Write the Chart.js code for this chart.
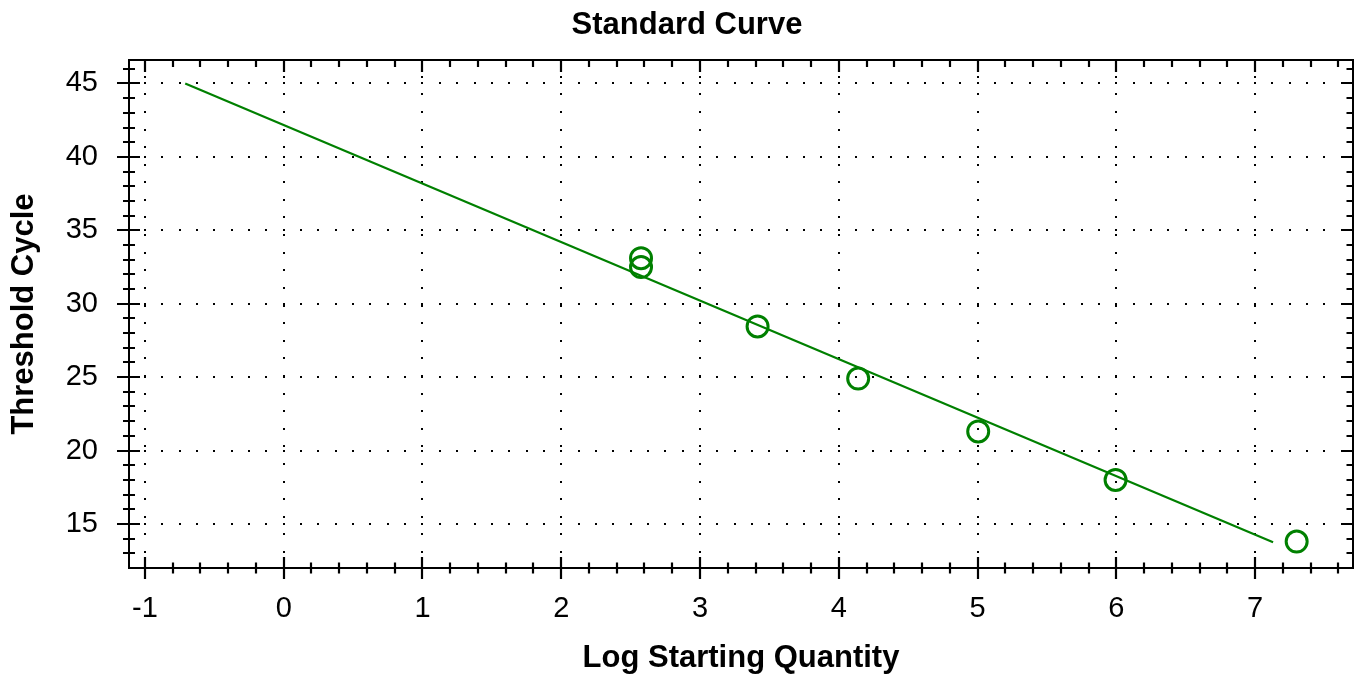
<!DOCTYPE html>
<html><head><meta charset="utf-8">
<script src="https://cdn.jsdelivr.net/npm/chart.js@4.4.1/dist/chart.umd.min.js"></script>
<style>html,body{margin:0;padding:0;background:#fff}#wrap{width:1361px;height:681px;position:relative}</style>
</head><body><div id="wrap"><canvas id="c" width="1361" height="681"></canvas></div>
<script>
// ---- data ----
const logQuantity    = [2.575, 2.575, 3.415, 4.14, 5.005, 5.995, 7.30];
const thresholdCycle = [33.1, 32.5, 28.45, 24.9, 21.3, 18.0, 13.8];
const fitX = [-0.71, 7.13];
const fitY = [45.0, 13.75];
const xTickValues = [-1, 0, 1, 2, 3, 4, 5, 6, 7];
const yTickValues = [15, 20, 25, 30, 35, 40, 45];
const xMinorStep = 0.2;
const yMinorStep = 1;

const FONT = '"Liberation Sans", Arial, Helvetica, sans-serif';
const GREEN = '#008000';

const framePlugin = {
  id: 'framePlugin',
  beforeDatasetsDraw(chart) {
    const {ctx, chartArea: a, scales: {x, y}} = chart;
    ctx.save();
    ctx.fillStyle = '#000';
    const dx = (x.getPixelForValue(1) - x.getPixelForValue(0)) / 8;
    yTickValues.forEach(v => {
      const py = Math.round(y.getPixelForValue(v));
      let sx = x.getPixelForValue(xTickValues[0]);
      while (sx - dx > a.left) sx -= dx;
      for (let px = sx; px < a.right - 2; px += dx) ctx.fillRect(Math.round(px) - 1, py - 1, 2, 2);
    });
    const dy = 17.6;
    xTickValues.forEach(v => {
      const px = Math.round(x.getPixelForValue(v));
      for (let py = a.top + 16.7; py < a.bottom - 4; py += dy) ctx.fillRect(px - 1, Math.round(py) - 1, 2, 2);
    });
    ctx.restore();
  },
  afterDatasetsDraw(chart) {
    const {ctx, chartArea: a, scales: {x, y}} = chart;
    ctx.save();
    ctx.strokeStyle = '#000';
    ctx.lineWidth = 2.2;
    ctx.lineCap = 'butt';
    ctx.beginPath();
    const line = (x1, y1, x2, y2) => { ctx.moveTo(x1, y1); ctx.lineTo(x2, y2); };
    const xs = Math.ceil(x.min / xMinorStep - 1e-9);
    for (let k = xs; k * xMinorStep <= x.max + 1e-9; k++) {
      const v = k * xMinorStep;
      const px = Math.round(x.getPixelForValue(v));
      const major = Math.abs(v - Math.round(v)) < 1e-6;
      if (major) { line(px, a.bottom - 11, px, a.bottom + 11); line(px, a.top, px, a.top + 12); }
      else { line(px, a.bottom - 5.5, px, a.bottom + 5.5); line(px, a.top, px, a.top + 7); }
    }
    const ys = Math.ceil(y.min / yMinorStep + 1e-9);
    for (let k = ys; k * yMinorStep <= y.max; k++) {
      const v = k * yMinorStep;
      const py = Math.round(y.getPixelForValue(v));
      const major = v % 5 === 0;
      if (major) { line(a.left - 12, py, a.left + 11, py); line(a.right, py, a.right - 12, py); }
      else { line(a.left - 6, py, a.left + 6, py); line(a.right, py, a.right - 6.5, py); }
    }
    ctx.stroke();
    ctx.lineWidth = 2;
    ctx.strokeRect(a.left, a.top, a.right - a.left, a.bottom - a.top);
    ctx.restore();
  }
};

new Chart(document.getElementById('c'), {
  type: 'scatter',
  data: {
    datasets: [
      {
        label: 'Standards',
        data: logQuantity.map((v, i) => ({x: v, y: thresholdCycle[i]})),
        pointStyle: 'circle',
        pointRadius: 10.5,
        pointBorderWidth: 3,
        pointBackgroundColor: 'rgba(0,0,0,0)',
        pointBorderColor: GREEN,
        showLine: false
      },
      {
        label: 'Fit',
        data: fitX.map((v, i) => ({x: v, y: fitY[i]})),
        showLine: true,
        borderColor: GREEN,
        borderWidth: 2.2,
        pointRadius: 0,
        fill: false
      }
    ]
  },
  options: {
    responsive: false,
    animation: false,
    devicePixelRatio: 1,
    layout: {autoPadding: false, padding: {left: 21, right: 8, top: 0, bottom: 0}},
    plugins: {
      legend: {display: false},
      tooltip: {enabled: false},
      title: {
        display: true,
        text: 'Standard Curve',
        color: '#000',
        font: {family: FONT, size: 31, weight: 'bold'},
        padding: {top: 7, bottom: 15.8}
      }
    },
    scales: {
      x: {
        type: 'linear',
        min: -1.115, max: 7.706,
        afterFit: s => { s.height = 113; },
        afterBuildTicks: s => { s.ticks = xTickValues.map(v => ({value: v})); },
        grid: {display: false, drawTicks: false},
        border: {display: false},
        ticks: {color: '#000', font: {family: FONT, size: 29}, padding: 24, maxRotation: 0, autoSkip: false,
                callback: v => String(v)},
        title: {display: true, text: 'Log Starting Quantity', color: '#000',
                font: {family: FONT, size: 31, weight: 'bold'}, padding: {top: 0, bottom: 3.5}}
      },
      y: {
        type: 'linear',
        min: 12, max: 46.6,
        afterFit: s => { s.width = 108; },
        afterBuildTicks: s => { s.ticks = yTickValues.map(v => ({value: v})); },
        grid: {display: false, drawTicks: false},
        border: {display: false},
        ticks: {color: '#000', font: {family: FONT, size: 29}, padding: 31, autoSkip: false,
                callback: v => String(v)},
        title: {display: true, text: 'Threshold Cycle', color: '#000',
                font: {family: FONT, size: 31, weight: 'bold'}, padding: {top: -15.5, bottom: 0}}
      }
    }
  },
  plugins: [framePlugin]
});
</script>
</body></html>
